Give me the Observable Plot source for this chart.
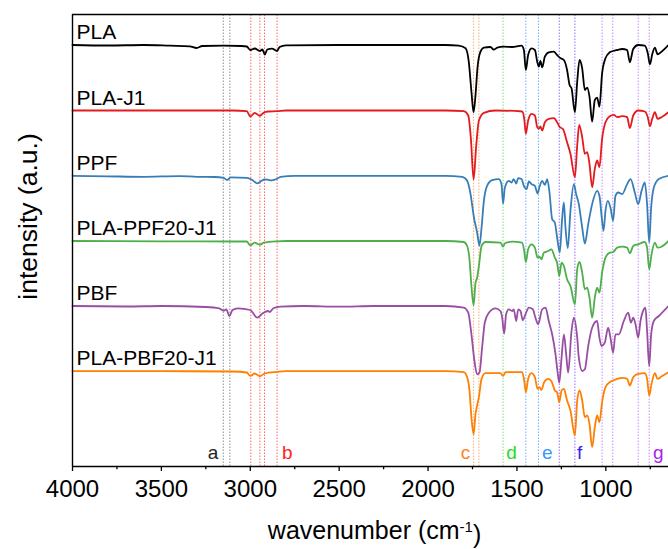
<!DOCTYPE html>
<html>
<head>
<meta charset="utf-8">
<script src="https://cdn.jsdelivr.net/npm/d3@7"></script>
<script src="https://cdn.jsdelivr.net/npm/@observablehq/plot@0.6"></script>
<style>
  html, body { margin: 0; padding: 0; background: #fff; }
  #chart svg { display: block; }
</style>
</head>
<body>
<div id="chart"></div>
<script>
// ---- series (wavenumber cm^-1, relative intensity a.u.) ----
const names = ["PLA", "PLA-J1", "PPF", "PLA-PPF20-J1", "PBF", "PLA-PBF20-J1"];
const seriesColors = ["#000000", "#e41a1c", "#377eb8", "#4daf4a", "#984ea3", "#ff7f00"];
const offsets = [421.5, 356, 290.7, 225.5, 160.5, 95.3];

const PLA = [
  [4000,0],[3800,-0.5],[3600,0],[3450,-0.7],[3340,-1.3],[3302,-3],[3270,-1],[3150,-0.7],[3050,-1],[3020,-1.5],
  [3000,-5],[2975,-3.5],[2946,-6],[2932,-4.5],[2918,-9.7],[2905,-4.5],[2878,-3.7],[2849,-6],[2835,-2],[2800,-0.3],
  [2500,0],[2200,0],[1902,0],[1827,-0.7],[1789,-3.3],[1771,-16.7],[1756,-46.7],[1744,-67.3],[1733,-50],[1722,-23],
  [1705,-6.7],[1686,-2.7],[1649,-2],[1630,-4.7],[1611,-2.7],[1574,-1.7],[1527,-2],[1474,-0.7],[1461,-5],[1450,-25],
  [1437,-10],[1418,-3.3],[1399,-5],[1386,-16.7],[1377,-21.7],[1368,-16],[1358,-22.3],[1343,-11.7],[1321,-7.3],
  [1293,-6.7],[1274,-10],[1259,-12.7],[1236,-15],[1218,-25],[1204,-40],[1193,-43.3],[1174,-67.3],[1161,-36.7],
  [1148,-15],[1133,-23.3],[1118,-45],[1105,-42.7],[1092,-51.7],[1077,-76.7],[1062,-55],[1049,-52.7],[1036,-61.7],
  [1021,-28.3],[1002,-13.3],[978,-7.3],[959,-6],[936,-5],[908,-4],[880,-5],[865,-17.3],[846,-4],[818,0],[781,-0.7],
  [764,-8.3],[752,-19.3],[739,-9.3],[724,-2.7],[709,-9.3],[687,-6.7],[648,0]
];
const PLA_J1 = [
  [4000,0],[3500,0],[3100,0],[3020,-0.7],[3000,-6],[2975,-2.5],[2946,-5.3],[2925,-2.3],[2900,-1],[2849,-0.7],[2800,0],
  [1902,0],[1799,-0.7],[1774,-5],[1759,-28.3],[1744,-69],[1729,-35],[1714,-10],[1686,-2.3],[1621,0],[1471,-1],
  [1459,-8.3],[1450,-23.3],[1437,-10],[1418,-3.3],[1399,-5],[1386,-16.7],[1377,-18.3],[1368,-16],[1358,-20],
  [1343,-11.7],[1321,-8.3],[1293,-7.7],[1274,-11.7],[1259,-16.7],[1242,-18.3],[1218,-31.7],[1199,-43.3],[1174,-66.7],
  [1161,-35],[1150,-14.3],[1133,-26.7],[1118,-43.3],[1105,-41.7],[1092,-53.3],[1077,-76.7],[1062,-58.3],[1049,-50],
  [1036,-56.7],[1021,-28.3],[1002,-11.7],[978,-5.7],[955,-4.3],[936,-6.7],[908,-5.7],[880,-6.7],[865,-17.7],[846,-5],
  [818,0],[781,-1],[764,-6.7],[752,-15.7],[739,-8.3],[724,-1.7],[709,-8.3],[687,-6.7],[648,-1.7]
];
const PPF = [
  [4000,0],[3800,-0.5],[3600,-1],[3400,-0.3],[3300,-1],[3200,-1.2],[3150,-2],[3130,-4.3],[3110,-1.5],[3020,-2],
  [2990,-4],[2961,-7.6],[2940,-5.5],[2920,-3.7],[2900,-4],[2880,-4.5],[2849,-3],[2830,-1],[2750,0],
  [1902,0],[1808,-1],[1780,-5],[1761,-18.3],[1742,-41.7],[1724,-56.7],[1711,-70],[1699,-51.7],[1686,-25],[1668,-10],
  [1639,-4.3],[1602,-3.3],[1587,-8.3],[1578,-27.7],[1568,-11.7],[1546,-5],[1531,-6.7],[1518,-3.3],[1504,-7.7],
  [1493,-2.3],[1474,-3.3],[1461,-10],[1446,-13.3],[1433,-5.7],[1418,-8.3],[1399,-10],[1384,-17.7],[1373,-11],
  [1358,-5],[1343,-9],[1330,-3.3],[1317,-16.7],[1302,-43.3],[1287,-46.7],[1274,-61.7],[1259,-76.7],[1246,-43.3],
  [1236,-26.7],[1227,-51.7],[1214,-72.3],[1199,-35],[1180,-8.3],[1167,-18.3],[1152,-28.3],[1133,-51.7],[1118,-67.7],
  [1099,-48.3],[1077,-28.3],[1049,-15],[1036,-20],[1024,-40],[1013,-55],[1002,-35],[989,-25],[974,-31.7],[959,-45],
  [946,-20],[931,-16.7],[908,-18.3],[880,-8.3],[861,-3.3],[837,-16.7],[818,-28.3],[799,-15],[781,-6.7],[768,-28.3],
  [756,-66.7],[745,-31.7],[730,-11.7],[702,-3.3],[648,0]
];
const PLA_PPF20_J1 = [
  [4000,0],[3500,-0.3],[3100,-0.5],[3020,-0.5],[3000,-4.3],[2975,-1.7],[2946,-3.7],[2925,-1.7],[2849,-0.3],[2800,0],
  [1902,0],[1799,-1],[1780,-5],[1767,-18.3],[1756,-45],[1744,-64.3],[1733,-41.7],[1724,-36.7],[1714,-25],[1699,-5],
  [1677,-1],[1593,-1.7],[1578,-5.7],[1568,-2.3],[1527,-0.7],[1471,-1.7],[1459,-10],[1450,-21],[1437,-8.3],[1418,-3.3],
  [1399,-6.7],[1384,-16.7],[1373,-15.7],[1362,-18.3],[1349,-11.7],[1324,-10],[1306,-8.3],[1287,-16.7],[1274,-21.7],
  [1262,-35],[1249,-21.7],[1236,-25],[1218,-38.3],[1199,-45],[1174,-63.3],[1161,-28.3],[1148,-21],[1133,-31.7],
  [1118,-48.3],[1105,-46.7],[1092,-56.7],[1077,-76.7],[1062,-56.7],[1049,-46.7],[1036,-51.7],[1021,-31.7],[1002,-16.7],
  [978,-11.7],[959,-11],[936,-6.7],[908,-5.7],[880,-6.7],[865,-12.3],[846,-5],[818,-3.3],[781,-1],[768,-6.7],
  [756,-28.3],[743,-13.3],[724,-1.7],[709,-6.7],[687,-5.7],[648,0]
];
const PBF = [
  [4000,0],[3700,-0.5],[3500,0],[3250,-1],[3175,-2.3],[3150,-4.7],[3135,-3.3],[3117,-10],[3100,-4],[3070,-2.3],
  [3000,-4],[2961,-11.7],[2930,-7.3],[2900,-5],[2890,-6],[2870,-2.3],[2830,-0.7],[2700,0],[2500,-0.7],[2300,0],
  [1902,0],[1799,-1.7],[1774,-6.7],[1756,-28.3],[1739,-55],[1724,-68.3],[1711,-66.7],[1696,-41.7],[1681,-16.7],
  [1658,-6.7],[1621,-2.3],[1593,-5],[1583,-11.7],[1572,-27.7],[1561,-8.3],[1546,-3.3],[1527,-5],[1518,-3.3],
  [1504,-15],[1493,-3.3],[1480,-5],[1467,-14.3],[1452,-8.3],[1433,-1.7],[1411,-3.3],[1396,-11.7],[1381,-18.3],
  [1358,-3.3],[1339,-1.7],[1321,-15],[1302,-28.3],[1283,-48.3],[1272,-65],[1262,-76.7],[1249,-51.7],[1236,-28.3],
  [1223,-48.3],[1212,-66.7],[1193,-25],[1180,-11.7],[1161,-31.7],[1152,-51.7],[1133,-65],[1118,-63.3],[1099,-40],
  [1077,-21.7],[1049,-15],[1036,-31.7],[1024,-40],[1006,-36.7],[987,-21.7],[974,-31.7],[959,-46.7],[946,-28.3],
  [927,-28.3],[899,-15],[874,-6.7],[859,-16.7],[846,-11.7],[833,-18.3],[818,-31.7],[805,-15],[786,-3.3],[777,-1.7],
  [768,-25],[756,-60],[745,-28.3],[730,-15],[702,-10],[648,0]
];
const PLA_PBF20_J1 = [
  [4000,0],[3500,0],[3100,-0.3],[3020,-1.3],[3000,-4.7],[2975,-2.3],[2946,-5],[2920,-2.3],[2849,-0.7],[2800,0],
  [1902,0],[1799,-1],[1780,-6],[1767,-19.3],[1756,-46],[1744,-63.3],[1733,-42.7],[1724,-34.3],[1714,-26],[1699,-7.7],
  [1677,-2],[1593,-2],[1578,-4.7],[1564,-1],[1471,-1],[1459,-9.3],[1450,-21],[1437,-7.7],[1418,-2],[1399,-6],
  [1384,-17.7],[1373,-16],[1362,-18.7],[1347,-11],[1324,-7.7],[1306,-10],[1287,-19.3],[1274,-21],[1262,-31],
  [1249,-19.3],[1236,-17.7],[1218,-29.3],[1199,-39.3],[1174,-64.3],[1161,-29.3],[1148,-19.3],[1133,-29.3],
  [1118,-46],[1105,-44.3],[1092,-52.7],[1077,-76],[1062,-56],[1049,-44.3],[1036,-51],[1021,-31],[1002,-16],
  [978,-11],[959,-9.3],[936,-7.7],[908,-6.7],[880,-7.7],[865,-14.3],[846,-6],[818,-2.7],[781,-2],[768,-7.7],
  [756,-24.3],[743,-12.7],[724,-2],[709,-7.7],[687,-5.3],[648,-1]
];
const seriesData = [PLA, PLA_J1, PPF, PLA_PPF20_J1, PBF, PLA_PBF20_J1];

// ---- band markers ----
const bandLetters = ["a", "b", "c", "d", "e", "f", "g"];
const bandLines = [[3152, 3115], [2997, 2946, 2920, 2849], [1744, 1714], [1578], [1450, 1379], [1262, 1174], [1021, 961, 818, 756]];
const bandLabelWn = [3209, 2792, 1789, 1531, 1330, 1148, 705];
const bandLineColors = ["#8c8c8c", "#ff6a6a", "#ffac70", "#6fe86f", "#6fb0ff", "#9a6cff", "#c68cff"];
const bandLabelColors = ["#222222", "#ff2222", "#ff7f27", "#22dd22", "#3399ff", "#3a1cf0", "#a922ee"];

// ---- axis ticks ----
const majorTicks = [4000, 3500, 3000, 2500, 2000, 1500, 1000];
const minorTicks = [3750, 3250, 2750, 2250, 1750, 1250, 750];

// ---- build tables ----
const table = [];
seriesData.forEach((s, i) => s.forEach(([wn, v]) => table.push({name: names[i], wn, y: offsets[i] + v})));
const refs = [];
bandLines.forEach((ws, i) => ws.forEach(w => refs.push({band: bandLetters[i], wn: w, color: bandLineColors[i]})));
const bandLabels = bandLetters.map((b, i) => ({band: b, wn: bandLabelWn[i], color: bandLabelColors[i]}));
const seriesLabels = names.map((n, i) => ({name: n, y: offsets[i]}));

const chart = Plot.plot({
  width: 668,
  height: 549,
  marginLeft: 72,
  marginRight: 0,
  marginTop: 14,
  marginBottom: 83,
  style: {fontFamily: "'Liberation Sans', Arial, sans-serif", background: "#fff", color: "#000"},
  x: {domain: [4000, 647.5], axis: null},
  y: {domain: [0, 452], axis: null},
  color: {domain: names, range: seriesColors},
  marks: [
    Plot.ruleX(refs, {x: "wn", y1: 0, y2: 452, stroke: d => d.color, strokeWidth: 1, strokeDasharray: "1.5,1.5"}),
    Plot.line(table, {x: "wn", y: "y", z: "name", stroke: "name", strokeWidth: 1.8, curve: "monotone-x"}),
    Plot.text(seriesLabels, {x: () => 3977.5, y: d => d.y + 6, text: "name", textAnchor: "start", lineAnchor: "bottom", fontSize: 21, fill: "#000"}),
    Plot.text(bandLabels, {x: "wn", y: () => 8, text: "band", fill: d => d.color, lineAnchor: "bottom", fontSize: 19}),
    Plot.ruleY([0, 452], {stroke: "#000", strokeWidth: 1.4}),
    Plot.ruleX([4000], {y1: 0, y2: 452, stroke: "#000", strokeWidth: 1.4}),
    Plot.axisX(majorTicks, {tickSize: 5, tickPadding: 8, fontSize: 24, strokeWidth: 1.3, tickFormat: d => String(d), label: null}),
    Plot.axisX(minorTicks, {tickSize: 3.3, strokeWidth: 1.3, tickFormat: () => "", label: null}),
    Plot.text(["wavenumber (cm-1)"], {x: () => 2301, y: () => -72, text: d => d, lineAnchor: "bottom", fontSize: 25, fill: "#000"}),
    Plot.text(["intensity (a.u.)"], {x: () => 4197, y: () => 250, text: d => d, rotate: -90, lineAnchor: "bottom", fontSize: 26.5, fill: "#000"})
  ]
});

// superscript in axis title
d3.select(chart).selectAll("text").each(function() {
  if (this.textContent === "wavenumber (cm-1)") {
    const t = d3.select(this);
    t.text(null);
    t.append("tspan").text("wavenumber (cm");
    t.append("tspan").attr("dy", "-0.42em").attr("font-size", "15px").text("-1");
    t.append("tspan").attr("dy", "0.42em").text(")");
  }
});

document.getElementById("chart").appendChild(chart);
</script>
</body>
</html>
